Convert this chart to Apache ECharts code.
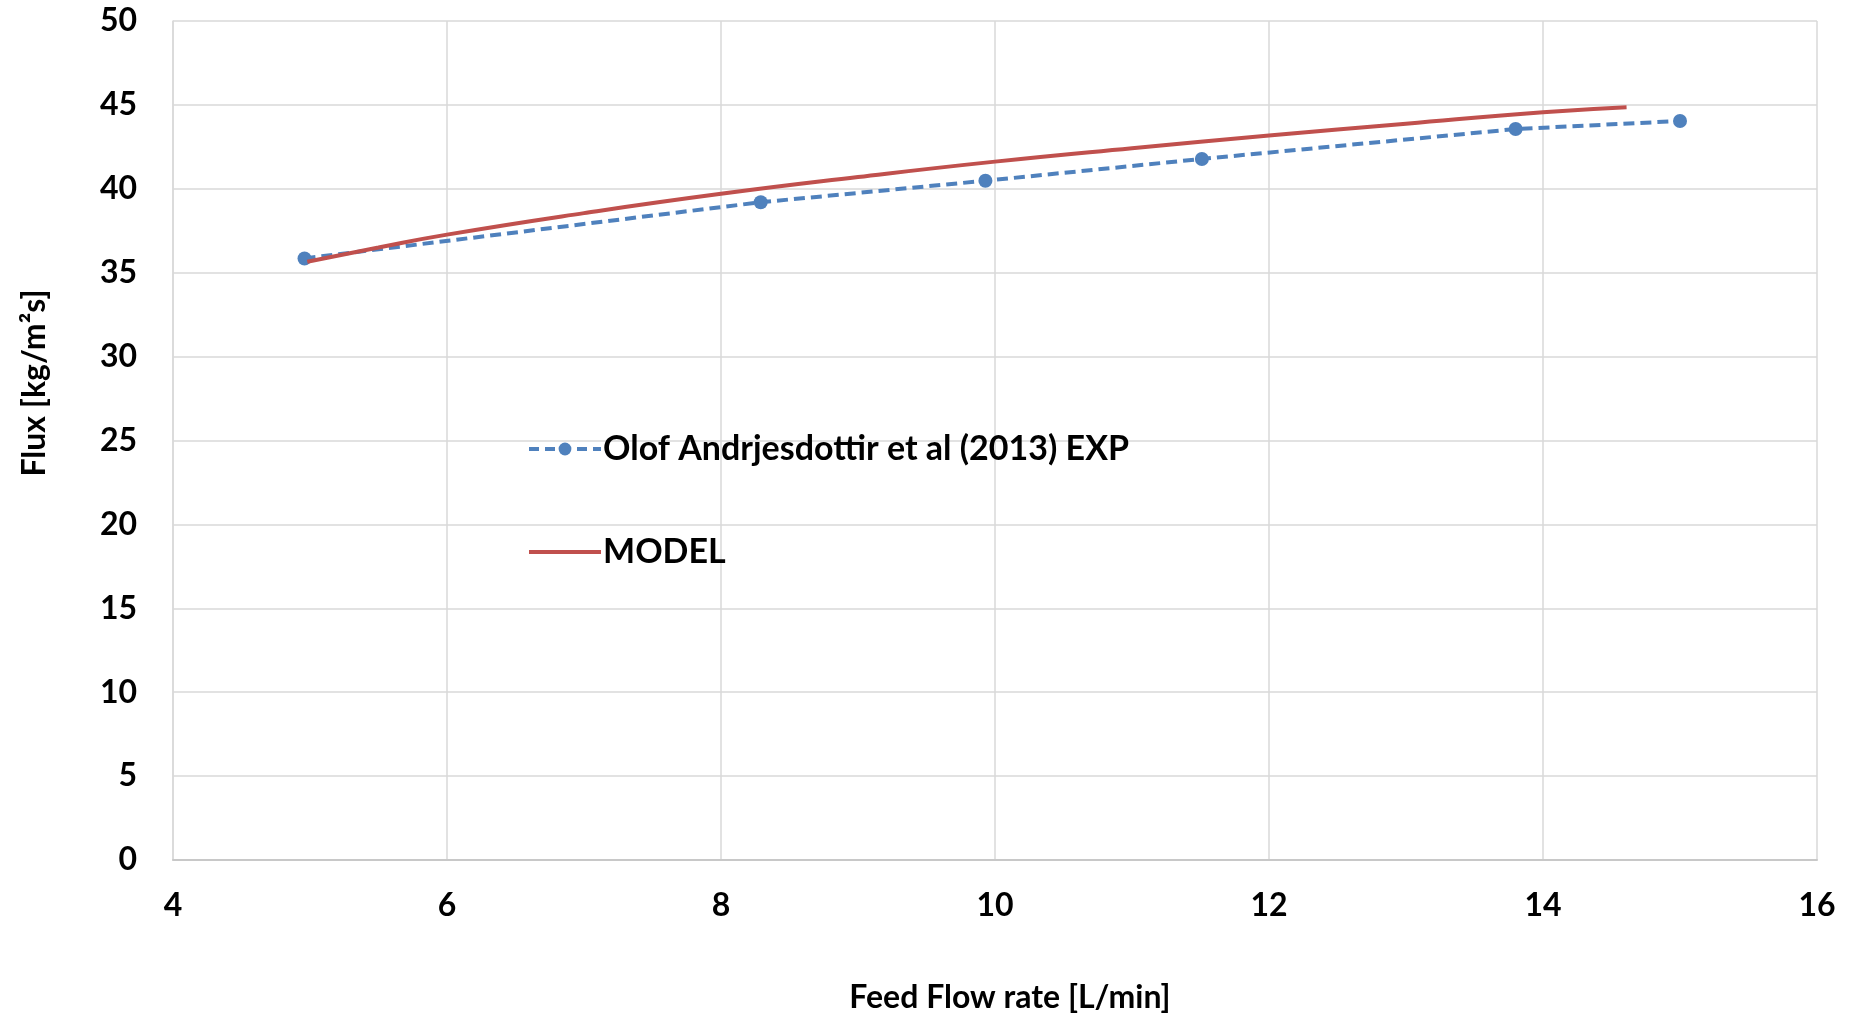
<!DOCTYPE html>
<html>
<head>
<meta charset="utf-8">
<script src="https://cdn.jsdelivr.net/npm/echarts@6/dist/echarts.min.js"></script>
<style>
html,body{margin:0;padding:0;background:#fff;}
#chart{width:1857px;height:1015px;}
</style>
</head>
<body>
<div id="chart"></div>
<script>
// Data
const expX = [4.96, 8.29, 9.93, 11.51, 13.80, 15.00];
const expY = [35.85, 39.2, 40.48, 41.78, 43.56, 44.04];
const modelX = [4.98, 5.5, 6.0, 7.0, 8.0, 9.0, 10.0, 11.0, 12.0, 13.0, 14.0, 14.61];
const modelY = [35.65, 36.5, 37.27, 38.55, 39.70, 40.70, 41.62, 42.42, 43.17, 43.88, 44.56, 44.86];
const expName = 'Olof Andrjesdottir et al (2013) EXP';
const modelName = 'MODEL';
const xTitle = 'Feed Flow rate [L/min]';
const yTitle = 'Flux [kg/m²s]';

const FONT = 'Lato';
const chart = echarts.init(document.getElementById('chart'));
chart.setOption({
  animation: false,
  backgroundColor: '#fff',
  grid: {left: 173, right: 40, top: 21, bottom: 155, outerBoundsMode: 'none', containLabel: false},
  legend: {
    orient: 'vertical',
    left: 522, top: 427,
    itemWidth: 72, itemHeight: 16, itemGap: 69,
    textStyle: {fontFamily: FONT, fontWeight: 'bold', fontSize: 34, color: '#000', padding: [0,0,0,-3]},
    data: [
      {name: expName, lineStyle: {width: 4, type: [10, 6], color: '#4F81BD'}, itemStyle: {color: '#4F81BD'}},
      {name: modelName, lineStyle: {width: 4, color: '#C0504D'}, itemStyle: {opacity: 0}}
    ]
  },
  xAxis: {
    type: 'value', min: 4, max: 16, interval: 2,
    name: xTitle, nameLocation: 'middle', nameGap: 122,
    nameTextStyle: {fontFamily: FONT, fontWeight: 'bold', fontSize: 32, color: '#000', padding: [0,0,0,30]},
    axisLine: {show: true, lineStyle: {color: '#c8c8c8', width: 2}},
    axisTick: {show: false},
    axisLabel: {fontFamily: FONT, fontWeight: 'bold', fontSize: 32, color: '#000', margin: 30},
    splitLine: {show: true, lineStyle: {color: '#d9d9d9', width: 1.5}}
  },
  yAxis: {
    type: 'value', min: 0, max: 50, interval: 5,
    axisLine: {show: true, lineStyle: {color: '#d9d9d9', width: 1.5}},
    axisTick: {show: false},
    axisLabel: {fontFamily: FONT, fontWeight: 'bold', fontSize: 32, color: '#000', margin: 36},
    splitLine: {show: true, lineStyle: {color: '#d9d9d9', width: 1.5}}
  },
  graphic: [{
    type: 'text',
    x: 35, y: 383, rotation: Math.PI / 2,
    style: {text: yTitle, fontFamily: FONT, fontWeight: 'bold', fontSize: 32, fill: '#000',
      textAlign: 'center', textVerticalAlign: 'middle'}
  }],
  series: [
    {
      name: expName, type: 'line',
      data: expX.map((x, i) => [x, expY[i]]),
      symbol: 'circle', symbolSize: 14,
      itemStyle: {color: '#4F81BD'},
      lineStyle: {color: '#4F81BD', width: 4, type: [11, 6]},
      z: 2
    },
    {
      name: modelName, type: 'line',
      data: modelX.map((x, i) => [x, modelY[i]]),
      smooth: true, showSymbol: false, symbol: 'none',
      itemStyle: {color: '#C0504D'},
      lineStyle: {color: '#C0504D', width: 4},
      z: 3
    }
  ]
});
</script>
</body>
</html>
